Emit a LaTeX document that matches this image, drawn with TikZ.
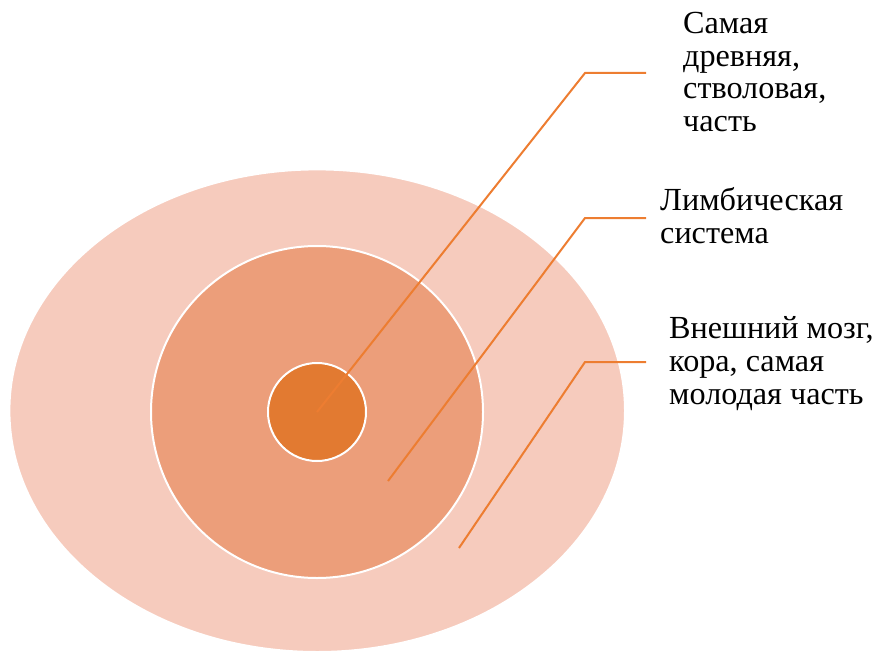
\documentclass[tikz,border=0pt]{standalone}
\usepackage{fontspec}
\setmainfont{Liberation Serif}
\usepackage{tikz}
\usetikzlibrary{shapes.geometric, positioning}
\definecolor{outerfill}{HTML}{F6CBBD}
\definecolor{midfill}{HTML}{EC9E7A}
\definecolor{corefill}{HTML}{E27A31}
\definecolor{leadcol}{HTML}{ED7D31}
\tikzset{
  zone/.style={
    inner sep=0pt, draw=white, line width=2pt
  },
  leader/.style={draw=leadcol, line width=2pt, line join=miter},
  caption/.style={
    anchor=base west, inner sep=0pt, align=left,
    font=\fontsize{32.2}{32.8}\selectfont
  },
}

\begin{document}
\begin{tikzpicture}[x=1pt, y=-1pt]
    \useasboundingbox (0,0) rectangle (877,655);
    \node[zone, ellipse, fill=outerfill, minimum width=615.6pt, minimum height=482.6pt] (cortex) at (317.2,410.7) {};
    \node[zone, circle, fill=midfill, minimum size=332pt] (limbic) at (317,412) {};
    \node[zone, circle, fill=corefill, minimum size=98pt] (stem) at (317,412) {};

    \coordinate (stemEnd) at (317,412);
    \coordinate (limbicEnd) at (388,481);
    \coordinate (cortexEnd) at (459,548);
    \coordinate (stemBend) at (585,73);
    \coordinate (limbicBend) at (585,218);
    \coordinate (cortexBend) at (585,362);
    \coordinate (stemTail) at (646,73);
    \coordinate (limbicTail) at (646,218);
    \coordinate (cortexTail) at (646,362);

    % base anchor sits on the last line
    \node[caption] (stemText) at (683,131.7) {Самая\\древняя,\\стволовая,\\часть};
    \node[caption] (limbicText) at (660,243) {Лимбическая\\система};
    \node[caption] (cortexText) at (669,404) {Внешний мозг,\\кора, самая\\молодая часть};

    \draw[leader] (stemEnd) -- (stemBend) -- (stemTail);
    \draw[leader] (limbicEnd) -- (limbicBend) -- (limbicTail);
    \draw[leader] (cortexEnd) -- (cortexBend) -- (cortexTail);
  \end{tikzpicture}
\end{document}
